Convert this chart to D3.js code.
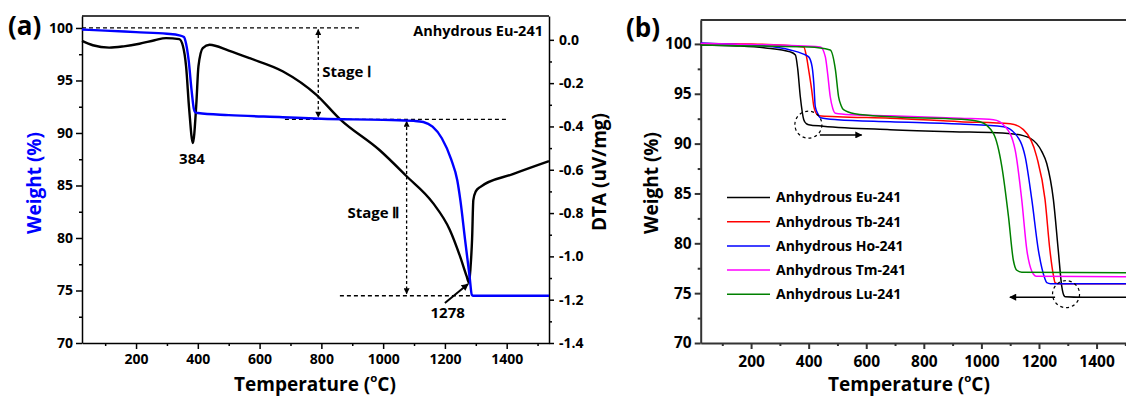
<!DOCTYPE html>
<html>
<head>
<meta charset="utf-8">
<script src="https://cdn.jsdelivr.net/npm/d3@7"></script>
<style>
  body { margin: 0; background: #fff; }
  svg text { font-family: "Open Sans", sans-serif; font-weight: 700; fill: #000; }
</style>
</head>
<body>
<svg id="chart" width="1126" height="396"></svg>
<script>
// ---------- panel (a): TGA + DTA of anhydrous Eu-241 ----------
const tgaTemp   = [25, 100, 200, 300, 340, 355, 362, 370, 380, 387, 392, 400, 500, 675, 800, 1000, 1100, 1130, 1160, 1190, 1220, 1240, 1250, 1265, 1280, 1287, 1292, 1400, 1537];
const tgaWeight = [99.85, 99.75, 99.6, 99.45, 99.3, 99.15, 98.5, 97.0, 94.0, 92.3, 91.95, 91.9, 91.7, 91.5, 91.35, 91.25, 91.15, 91.05, 90.6, 89.5, 87.5, 85.5, 83.6, 79.9, 76.3, 74.6, 74.5, 74.5, 74.5];

const dtaTemp  = [25, 60, 113, 160, 211, 260, 297, 340, 352, 362, 372, 384, 395, 402, 416, 438, 500, 568, 676, 784, 860, 989, 1076, 1161, 1216, 1249, 1270, 1278, 1283, 1288, 1292, 1300, 1314, 1420, 1537];
const dtaValue = [-0.005, -0.025, -0.036, -0.03, -0.018, -0.002, 0.008, 0.003, -0.03, -0.123, -0.32, -0.477, -0.3, -0.123, -0.038, -0.023, -0.05, -0.085, -0.146, -0.254, -0.366, -0.51, -0.63, -0.753, -0.878, -1.0, -1.09, -1.122, -1.05, -0.92, -0.74, -0.70, -0.68, -0.62, -0.56];

// ---------- panel (b): TGA of five anhydrous compounds ----------
const seriesNames = ['Anhydrous Eu-241', 'Anhydrous Tb-241', 'Anhydrous Ho-241', 'Anhydrous Tm-241', 'Anhydrous Lu-241'];

const euTemp   = [25, 150, 250, 336, 354, 362, 371, 383, 392, 400, 450, 683, 900, 1053, 1145, 1192, 1210, 1227, 1250, 1267, 1279, 1286, 1291, 1350, 1537];
const euWeight = [99.9, 99.8, 99.6, 99.2, 98.9, 97.5, 94.7, 92.4, 92.0, 91.9, 91.75, 91.4, 91.2, 91.1, 90.8, 90.0, 89.2, 88.0, 84.4, 79.3, 75.7, 74.8, 74.65, 74.6, 74.6];

const tbTemp   = [25, 200, 383, 392, 400, 410, 418, 427, 435, 500, 683, 926, 1100, 1146, 1192, 1221, 1238, 1250, 1256, 1265, 1537];
const tbWeight = [100.05, 100.0, 99.7, 98.8, 97.4, 95.5, 93.7, 93.0, 92.8, 92.7, 92.55, 92.2, 92.0, 91.4, 88.7, 84.4, 79.3, 76.8, 76.05, 75.95, 75.95];

const hoTemp   = [25, 150, 250, 336, 380, 400, 412, 418, 423, 432, 441, 500, 683, 926, 1077, 1117, 1152, 1175, 1198, 1220, 1227, 1240, 1537];
const hoWeight = [100.1, 99.95, 99.8, 99.4, 99.0, 98.7, 97.7, 96.0, 93.7, 93.0, 92.6, 92.4, 92.2, 91.97, 91.7, 91.0, 88.7, 84.4, 79.3, 76.5, 76.05, 75.95, 75.95];

const tmTemp   = [25, 200, 441, 458, 466, 475, 484, 493, 550, 683, 926, 1042, 1083, 1117, 1140, 1158, 1175, 1181, 1190, 1537];
const tmWeight = [100.05, 99.95, 99.7, 98.7, 97.0, 94.7, 93.5, 93.05, 92.9, 92.8, 92.55, 92.4, 91.7, 89.4, 84.4, 79.3, 77.2, 76.9, 76.7, 76.65];

const luTemp   = [25, 200, 400, 475, 493, 504, 513, 521, 560, 683, 926, 995, 1042, 1071, 1094, 1111, 1117, 1123, 1140, 1537];
const luWeight = [99.9, 99.8, 99.7, 99.4, 97.4, 94.7, 93.8, 93.4, 93.0, 92.7, 92.45, 92.2, 91.0, 87.7, 82.7, 78.3, 77.6, 77.3, 77.1, 77.05];

// ---------- tick labels ----------
const tempTicks   = [200, 400, 600, 800, 1000, 1200, 1400];
const weightTicks = [70, 75, 80, 85, 90, 95, 100];
const dtaTicks    = [0, -0.2, -0.4, -0.6, -0.8, -1.0, -1.2, -1.4];

// colours for panel (b), in legend order
const seriesColors = ['#000000', '#ff0000', '#0000ff', '#ff00ff', '#008000'];

const svg = d3.select('#chart');

// arrow heads
const defs = svg.append('defs');
defs.append('marker')
  .attr('id', 'head')
  .attr('viewBox', '0 0 10 10')
  .attr('refX', 9).attr('refY', 5)
  .attr('markerWidth', 9).attr('markerHeight', 7)
  .attr('markerUnits', 'userSpaceOnUse')
  .attr('orient', 'auto-start-reverse')
  .append('path').attr('d', 'M0,0 L10,5 L0,10 Z').attr('fill', '#000');
defs.append('marker')
  .attr('id', 'smallhead')
  .attr('viewBox', '0 0 10 10')
  .attr('refX', 9).attr('refY', 5)
  .attr('markerWidth', 7).attr('markerHeight', 6)
  .attr('markerUnits', 'userSpaceOnUse')
  .attr('orient', 'auto-start-reverse')
  .append('path').attr('d', 'M0,0 L10,5 L0,10 Z').attr('fill', '#000');

function zip(xs, ys) {
  return xs.map((x, i) => [x, ys[i]]);
}

function tempTitle(g, x, y, size) {
  const t = g.append('text')
    .attr('x', x).attr('y', y)
    .attr('text-anchor', 'middle')
    .style('font-size', size + 'px');
  t.append('tspan').text('Temperature (');
  t.append('tspan').text('o').style('font-size', (size * 0.6) + 'px').attr('dy', -size * 0.45);
  t.append('tspan').text('C)').attr('dy', size * 0.45);
}

const intFmt = d3.format('d');

// =====================================================================
// panel (a)
// =====================================================================
const xA = d3.scaleLinear().domain([25, 1537]).range([82, 549]);
const yA = d3.scaleLinear().domain([70, 101.14]).range([343, 16]);
const yD = d3.scaleLinear().domain([-1.4, 0.11]).range([343, 16]);

const gA = svg.append('g');

// frame top
gA.append('line')
  .attr('x1', xA.range()[0]).attr('x2', xA.range()[1])
  .attr('y1', yA.range()[1]).attr('y2', yA.range()[1])
  .attr('stroke', '#000').attr('stroke-width', 1.5);

// bottom axis
gA.append('g')
  .attr('class', 'axis')
  .attr('transform', `translate(0, ${yA.range()[0]})`)
  .call(d3.axisBottom(xA).tickValues(tempTicks).tickFormat(intFmt).tickSize(6).tickSizeOuter(0).tickPadding(5));
gA.append('g')
  .attr('transform', `translate(0, ${yA.range()[0]})`)
  .call(d3.axisBottom(xA).tickValues(d3.range(100, 1537, 200)).tickSize(3).tickFormat(''))
  .call(g => g.select('.domain').remove());

// left axis
gA.append('g')
  .attr('class', 'axis')
  .attr('transform', `translate(${xA.range()[0]}, 0)`)
  .call(d3.axisLeft(yA).tickValues(weightTicks).tickSize(6).tickSizeOuter(0).tickPadding(3));
gA.append('g')
  .attr('transform', `translate(${xA.range()[0]}, 0)`)
  .call(d3.axisLeft(yA).tickValues(d3.range(72.5, 100, 5)).tickSize(3).tickFormat(''))
  .call(g => g.select('.domain').remove());

// right axis (DTA)
gA.append('g')
  .attr('class', 'axis')
  .attr('transform', `translate(${xA.range()[1]}, 0)`)
  .call(d3.axisRight(yD).tickValues(dtaTicks).tickSize(5).tickSizeOuter(0).tickPadding(5)
    .tickFormat(d => d.toFixed(1)));
gA.append('g')
  .attr('transform', `translate(${xA.range()[1]}, 0)`)
  .call(d3.axisRight(yD).tickValues([-0.1, -0.3, -0.5, -0.7, -0.9, -1.1, -1.3]).tickSize(3).tickFormat(''))
  .call(g => g.select('.domain').remove());

gA.selectAll('.axis text').style('font-size', '14px');
gA.selectAll('path.domain, .tick line').attr('stroke', '#000').attr('stroke-width', 1.5);

// dashed guide lines
const guidesA = [
  { t1: 25, t2: 925, w: 100 },
  { t1: 682, t2: 1401, w: 91.3 },
  { t1: 860, t2: 1287, w: 74.5 }
];
gA.selectAll('line.guide')
  .data(guidesA)
  .enter().append('line')
  .attr('class', 'guide')
  .attr('x1', d => xA(d.t1)).attr('x2', d => xA(d.t2))
  .attr('y1', d => yA(d.w)).attr('y2', d => yA(d.w))
  .attr('stroke', '#000').attr('stroke-width', 1.3).attr('stroke-dasharray', '4,3');

// stage arrows
const stages = [
  { t: 790, w1: 99.85, w2: 91.5, label: 'Stage Ⅰ', lt: 803, lw: 95.8, anchor: 'start' },
  { t: 1076, w1: 91.1, w2: 74.7, label: 'Stage Ⅱ', lt: 1053, lw: 82.4, anchor: 'end' }
];
gA.selectAll('line.stage')
  .data(stages)
  .enter().append('line')
  .attr('class', 'stage')
  .attr('x1', d => xA(d.t)).attr('x2', d => xA(d.t))
  .attr('y1', d => yA(d.w1)).attr('y2', d => yA(d.w2))
  .attr('stroke', '#000').attr('stroke-width', 1.3).attr('stroke-dasharray', '3,2.5')
  .attr('marker-start', 'url(#smallhead)').attr('marker-end', 'url(#smallhead)');
gA.selectAll('text.stage')
  .data(stages)
  .enter().append('text')
  .attr('class', 'stage')
  .attr('x', d => xA(d.lt)).attr('y', d => yA(d.lw))
  .attr('dy', '0.35em')
  .attr('text-anchor', d => d.anchor)
  .style('font-size', '15px')
  .text(d => d.label);

// curves
const lineA = d3.line().x(d => xA(d[0])).y(d => yA(d[1])).curve(d3.curveMonotoneX);
const lineD = d3.line().x(d => xA(d[0])).y(d => yD(d[1])).curve(d3.curveMonotoneX);

gA.append('path')
  .datum(zip(dtaTemp, dtaValue))
  .attr('d', lineD)
  .attr('fill', 'none').attr('stroke', '#000').attr('stroke-width', 2.4);
gA.append('path')
  .datum(zip(tgaTemp, tgaWeight))
  .attr('d', lineA)
  .attr('fill', 'none').attr('stroke', '#0000ff').attr('stroke-width', 2.4);

// peak labels
gA.append('text')
  .attr('x', xA(381)).attr('y', yD(-0.55))
  .attr('dy', '0.35em').attr('text-anchor', 'middle')
  .style('font-size', '15px').text('384');
gA.append('text')
  .attr('x', xA(1209)).attr('y', yD(-1.26))
  .attr('dy', '0.35em').attr('text-anchor', 'middle')
  .style('font-size', '15px').text('1278');
gA.append('line')
  .attr('x1', xA(1200)).attr('y1', yD(-1.215))
  .attr('x2', xA(1275)).attr('y2', yD(-1.128))
  .attr('stroke', '#000').attr('stroke-width', 2)
  .attr('marker-end', 'url(#head)');

gA.append('text')
  .attr('x', 543).attr('y', 31)
  .attr('dy', '0.35em').attr('text-anchor', 'end')
  .style('font-size', '14.5px').text('Anhydrous Eu-241');

// titles
gA.append('text')
  .attr('transform', 'translate(34, 183) rotate(-90)')
  .attr('text-anchor', 'middle').attr('dy', '0.35em')
  .style('font-size', '19px').style('fill', '#0000ff')
  .text('Weight (%)');
gA.append('text')
  .attr('transform', 'translate(599, 172) rotate(-90)')
  .attr('text-anchor', 'middle').attr('dy', '0.35em')
  .style('font-size', '19px')
  .text('DTA (uV/mg)');
tempTitle(gA, 315, 391, 19);
gA.append('text')
  .attr('x', 8).attr('y', 35)
  .style('font-size', '26px').text('(a)');

// =====================================================================
// panel (b)
// =====================================================================
const xB = d3.scaleLinear().domain([25, 1537]).range([700.7, 1136]);
const yB = d3.scaleLinear().domain([70, 102.4]).range([343, 20]);

const gB = svg.append('g');

gB.append('line')
  .attr('x1', xB.range()[0]).attr('x2', xB.range()[1])
  .attr('y1', yB.range()[1]).attr('y2', yB.range()[1])
  .attr('stroke', '#333').attr('stroke-width', 2);

gB.append('g')
  .attr('class', 'axis')
  .attr('transform', `translate(0, ${yB.range()[0]})`)
  .call(d3.axisBottom(xB).tickValues(tempTicks).tickFormat(intFmt).tickSize(6).tickSizeOuter(0).tickPadding(7));
gB.append('g')
  .attr('transform', `translate(0, ${yB.range()[0]})`)
  .call(d3.axisBottom(xB).tickValues(d3.range(100, 1537, 200)).tickSize(3).tickFormat(''))
  .call(g => g.select('.domain').remove());

gB.append('g')
  .attr('class', 'axis')
  .attr('transform', `translate(${xB.range()[0]}, 0)`)
  .call(d3.axisLeft(yB).tickValues(weightTicks).tickSize(6).tickSizeOuter(0).tickPadding(3));
gB.append('g')
  .attr('transform', `translate(${xB.range()[0]}, 0)`)
  .call(d3.axisLeft(yB).tickValues(d3.range(72.5, 100, 5)).tickSize(3).tickFormat(''))
  .call(g => g.select('.domain').remove());

gB.selectAll('.axis text').style('font-size', '15.5px');
gB.selectAll('path.domain, .tick line').attr('stroke', '#333').attr('stroke-width', 2);

const seriesB = [
  zip(euTemp, euWeight),
  zip(tbTemp, tbWeight),
  zip(hoTemp, hoWeight),
  zip(tmTemp, tmWeight),
  zip(luTemp, luWeight)
];
const lineB = d3.line().x(d => xB(d[0])).y(d => yB(d[1])).curve(d3.curveMonotoneX);
gB.selectAll('path.series')
  .data(seriesB)
  .enter().append('path')
  .attr('class', 'series')
  .attr('d', lineB)
  .attr('fill', 'none')
  .attr('stroke', (d, i) => seriesColors[i])
  .attr('stroke-width', 1.5);

// dashed circles + arrows
const circlesB = [ { t: 399, w: 91.9 }, { t: 1294, w: 74.9 } ];
gB.selectAll('circle.mark')
  .data(circlesB)
  .enter().append('circle')
  .attr('class', 'mark')
  .attr('cx', d => xB(d.t)).attr('cy', d => yB(d.w)).attr('r', 13.5)
  .attr('fill', 'none').attr('stroke', '#000').attr('stroke-width', 1.2).attr('stroke-dasharray', '3,3');
const arrowsB = [ { t1: 439, t2: 584, w: 90.87 }, { t1: 1256, t2: 1099, w: 74.6 } ];
gB.selectAll('line.arrow')
  .data(arrowsB)
  .enter().append('line')
  .attr('class', 'arrow')
  .attr('x1', d => xB(d.t1)).attr('x2', d => xB(d.t2))
  .attr('y1', d => yB(d.w)).attr('y2', d => yB(d.w))
  .attr('stroke', '#000').attr('stroke-width', 1.5)
  .attr('marker-end', 'url(#head)');

// legend
const legend = gB.selectAll('g.legend')
  .data(seriesNames)
  .enter().append('g')
  .attr('class', 'legend')
  .attr('transform', (d, i) => `translate(727, ${197.5 + i * 24.2})`);
legend.append('line')
  .attr('x1', 0).attr('x2', 43)
  .attr('stroke', (d, i) => seriesColors[i]).attr('stroke-width', 1.5);
legend.append('text')
  .attr('x', 49).attr('dy', '0.35em')
  .style('font-size', '14px')
  .text(d => d);

gB.append('text')
  .attr('transform', 'translate(651, 183) rotate(-90)')
  .attr('text-anchor', 'middle').attr('dy', '0.35em')
  .style('font-size', '19px')
  .text('Weight (%)');
tempTitle(gB, 909, 391, 19);
gB.append('text')
  .attr('x', 626).attr('y', 37)
  .style('font-size', '26px').text('(b)');
</script>
</body>
</html>
